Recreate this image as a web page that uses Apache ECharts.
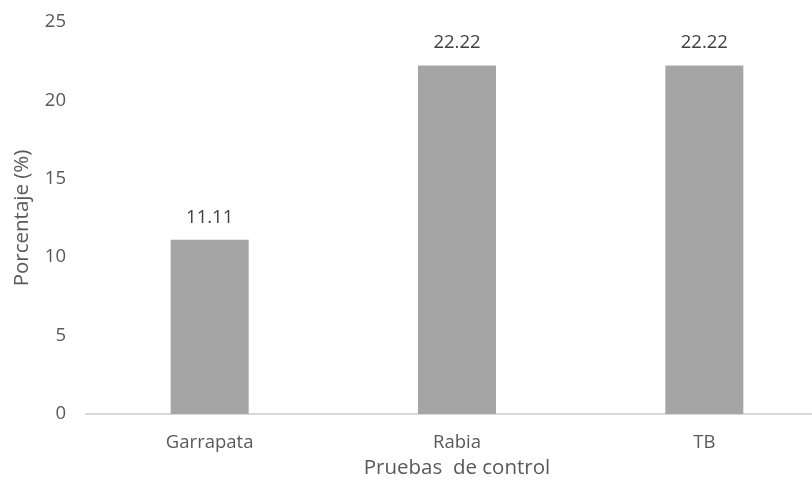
<!DOCTYPE html>
<html>
<head>
<meta charset="utf-8">
<script src="https://cdn.jsdelivr.net/npm/echarts@6/dist/echarts.min.js"></script>
<style>
  html, body { margin: 0; padding: 0; background: #fff; overflow: hidden; width: 812px; height: 489px; }
  /* the source plot runs past the right edge, so the chart is a bit wider than the page */
  #chart { width: 828px; height: 489px; }
</style>
</head>
<body>
<div id="chart"></div>
<script>
const categories = ['Garrapata', 'Rabia', 'TB']
const values = [11.11, 22.22, 22.22]
const yTicks = { min: 0, max: 25, interval: 5 }

const chart = echarts.init(document.getElementById('chart'))
const font = '"Open Sans", "DejaVu Sans", sans-serif'

const option = {
  animation: false,
  grid: { left: 86, right: 0, top: 22, bottom: 75 },
  xAxis: {
    type: 'category',
    data: categories,
    name: 'Pruebas  de control',
    nameLocation: 'middle',
    nameGap: 44,
    nameTextStyle: { color: '#595959', fontSize: 20.5, fontFamily: font },
    axisLine: { lineStyle: { color: '#d9d9d9', width: 2 } },
    axisTick: { show: false },
    axisLabel: { color: '#595959', fontSize: 18.5, fontFamily: font, margin: 19 },
  },
  yAxis: {
    type: 'value',
    min: yTicks.min,
    max: yTicks.max,
    interval: yTicks.interval,
    name: 'Porcentaje (%)',
    nameLocation: 'middle',
    nameGap: 53,
    nameTextStyle: { color: '#595959', fontSize: 20.5, fontFamily: font },
    axisLine: { show: false },
    axisTick: { show: false },
    splitLine: { show: false },
    axisLabel: { color: '#595959', fontSize: 18.5, fontFamily: font, margin: 20 },
  },
  series: [
    {
      type: 'bar',
      data: values,
      barWidth: 78,
      itemStyle: { color: '#a5a5a5' },
      label: {
        show: true,
        position: 'top',
        distance: 13,
        color: '#404040',
        fontSize: 18.5,
        fontFamily: font,
        formatter: (p) => p.value.toFixed(2),
      },
    },
  ],
}
chart.setOption(option)
</script>
</body>
</html>
